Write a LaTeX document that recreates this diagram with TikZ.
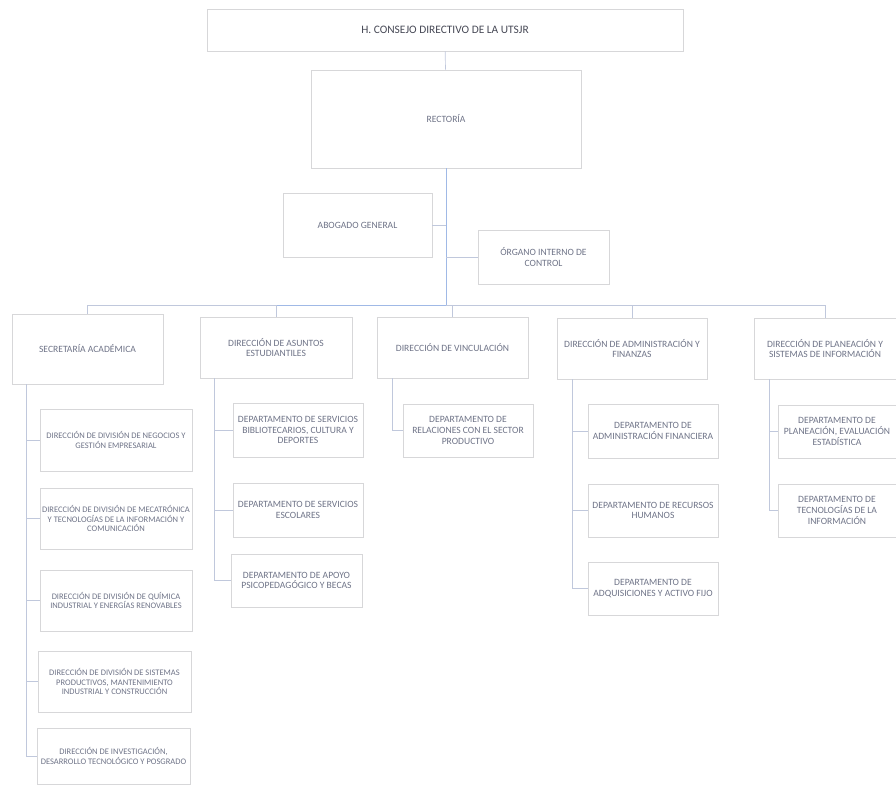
\documentclass[tikz,border=0pt]{standalone}
\usepackage{fontspec}
\setmainfont{Carlito}
\definecolor{inkgray}{RGB}{110,115,135}
\definecolor{titlegray}{RGB}{70,72,85}
\definecolor{boxgray}{RGB}{215,215,217}
\definecolor{linkblue}{RGB}{192,200,220}
\definecolor{mainblue}{RGB}{160,185,230}
\tikzset{
  unit/.style={draw=boxgray, line width=0.7pt, align=center, text=inkgray,
    inner sep=2pt, font=\fontsize{9.6}{10.8}\selectfont},
  divbox/.style={unit, font=\fontsize{8.5}{9.2}\selectfont},
  link/.style={draw=linkblue, line width=0.7pt},
}
\begin{document}
\begin{tikzpicture}[x=1pt,y=-1pt]
  \useasboundingbox (0,0) rectangle (896,785);
  \node[unit, minimum width=476pt, minimum height=42pt, text=titlegray,
    font=\fontsize{11.4}{13}\selectfont] (consejo) at (445,30) {H. CONSEJO DIRECTIVO DE LA UTSJR};
  \node[unit, minimum width=270pt, minimum height=98pt] (rectoria) at (446,119) {RECTORÍA};
  \node[unit, minimum width=149pt, minimum height=64pt] (abogado) at (357.5,225) {ABOGADO GENERAL};
  \node[unit, minimum width=131pt, minimum height=54pt] (organo) at (543.5,257) {ÓRGANO INTERNO DE\\CONTROL};
  \coordinate (bus) at (446,305);

  \node[unit, minimum width=151pt, minimum height=70pt] (secacad) at (87.5,349) {SECRETARÍA ACADÉMICA};
  \node[unit, minimum width=152pt, minimum height=61pt] (asuntos) at (276,347.5) {DIRECCIÓN DE ASUNTOS\\ESTUDIANTILES};
  \node[unit, minimum width=151pt, minimum height=61pt] (vinc) at (452.5,347.5) {DIRECCIÓN DE VINCULACIÓN};
  \node[unit, minimum width=150pt, minimum height=61pt] (admin) at (632,348.5) {DIRECCIÓN DE ADMINISTRACIÓN Y\\FINANZAS};
  \node[unit, minimum width=142pt, minimum height=61pt] (plan) at (825,348.5) {DIRECCIÓN DE PLANEACIÓN Y\\SISTEMAS DE INFORMACIÓN};

  \node[divbox, minimum width=152pt, minimum height=62pt] (neg) at (116,440) {DIRECCIÓN DE DIVISIÓN DE NEGOCIOS Y\\GESTIÓN EMPRESARIAL};
  \node[divbox, minimum width=152pt, minimum height=61pt] (meca) at (116,518.5) {DIRECCIÓN DE DIVISIÓN DE MECATRÓNICA\\Y TECNOLOGÍAS DE LA INFORMACIÓN Y\\COMUNICACIÓN};
  \node[divbox, minimum width=152pt, minimum height=61pt] (quim) at (116,600.5) {DIRECCIÓN DE DIVISIÓN DE QUÍMICA\\INDUSTRIAL Y ENERGÍAS RENOVABLES};
  \node[divbox, minimum width=153pt, minimum height=61pt] (sist) at (114.5,681.5) {DIRECCIÓN DE DIVISIÓN DE SISTEMAS\\PRODUCTIVOS, MANTENIMIENTO\\INDUSTRIAL Y CONSTRUCCIÓN};
  \node[divbox, minimum width=153pt, minimum height=56pt] (inv) at (113.5,756) {DIRECCIÓN DE INVESTIGACIÓN,\\DESARROLLO TECNOLÓGICO Y POSGRADO};

  \node[unit, minimum width=130pt, minimum height=54pt] (bib) at (298,430) {DEPARTAMENTO DE SERVICIOS\\BIBLIOTECARIOS, CULTURA Y\\DEPORTES};
  \node[unit, minimum width=130pt, minimum height=54pt] (esc) at (298,510) {DEPARTAMENTO DE SERVICIOS\\ESCOLARES};
  \node[unit, minimum width=131pt, minimum height=53pt] (apoyo) at (296.5,580.5) {DEPARTAMENTO DE APOYO\\PSICOPEDAGÓGICO Y BECAS};

  \node[unit, minimum width=130pt, minimum height=53pt] (rel) at (468,430.5) {DEPARTAMENTO DE\\RELACIONES CON EL SECTOR\\PRODUCTIVO};

  \node[unit, minimum width=130pt, minimum height=54pt] (fin) at (653,431) {DEPARTAMENTO DE\\ADMINISTRACIÓN FINANCIERA};
  \node[unit, minimum width=130pt, minimum height=53pt] (rh) at (653,510.5) {DEPARTAMENTO DE RECURSOS\\HUMANOS};
  \node[unit, minimum width=130pt, minimum height=53pt] (adq) at (653,588.5) {DEPARTAMENTO DE\\ADQUISICIONES Y ACTIVO FIJO};

  \node[unit, minimum width=118pt, minimum height=53pt] (pev) at (837,431.5) {DEPARTAMENTO DE\\PLANEACIÓN, EVALUACIÓN\\ESTADÍSTICA};
  \node[unit, minimum width=118pt, minimum height=53pt] (tec) at (837,510.5) {DEPARTAMENTO DE\\TECNOLOGÍAS DE LA\\INFORMACIÓN};

  \coordinate (s1) at ([xshift=15pt]secacad.south west);
  \coordinate (s2) at ([xshift=15pt]asuntos.south west);
  \coordinate (s3) at ([xshift=16pt]vinc.south west);
  \coordinate (s4) at ([xshift=16pt]admin.south west);
  \coordinate (s5) at ([xshift=16pt]plan.south west);

  \begin{scope}[link]
    \draw (consejo) -- (rectoria);
    \draw[mainblue] (rectoria) -- (bus);
    \draw (abogado.east) -- (abogado.east -| bus);
    \draw (organo.west) -- (organo.west -| bus);
    \draw (secacad.north |- bus) -- (plan.north |- bus);
    \draw[mainblue] (asuntos.north |- bus) -- (bus);
    \foreach \d in {secacad,asuntos,vinc,admin,plan}
      \draw (\d.north) -- (\d.north |- bus);
    \foreach \c in {neg,meca,quim,sist,inv}
      \draw (s1) |- (\c.west);
    \foreach \c in {bib,esc,apoyo}
      \draw (s2) |- (\c.west);
    \draw (s3) |- (rel.west);
    \foreach \c in {fin,rh,adq}
      \draw (s4) |- (\c.west);
    \foreach \c in {pev,tec}
      \draw (s5) |- (\c.west);
  \end{scope}
\end{tikzpicture}
\end{document}
